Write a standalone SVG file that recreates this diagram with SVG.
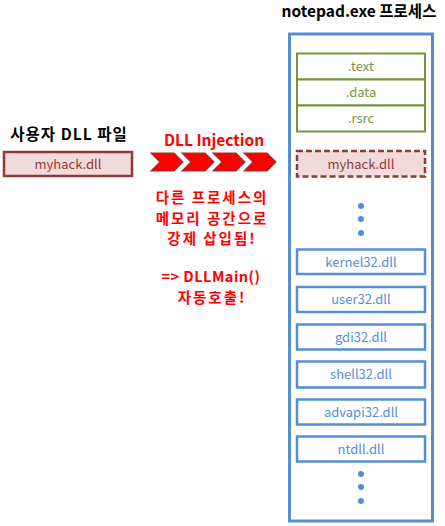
<svg xmlns="http://www.w3.org/2000/svg" width="445" height="526" viewBox="0 0 445 526">
<style>
text{font-family:"Noto Sans CJK KR","Noto Sans",sans-serif;text-anchor:middle}
.t{font-size:15.5px;font-weight:bold;fill:#000}
.red{font-size:15.5px;font-weight:bold;fill:#FF0000}
.rs{font-size:14.5px}
.ko{letter-spacing:2px}
.sec{fill:#fff;stroke:#77933C;stroke-width:2}
.st{font-size:13px;fill:#77933C}
.dll{fill:#fff;stroke:#558ED5;stroke-width:2.5}
.dt{font-size:13px;fill:#558ED5}
.mh{fill:#F2DCDB;stroke:#953735;stroke-width:2.5}
.mt{font-size:13px;fill:#953735}
.dot{fill:#558ED5}
.chev{fill:#FF0000;stroke:#953735;stroke-width:1.2}
</style>
<g id="user-dll">
<text class="t" x="69" y="140" style="letter-spacing:1px">사용자 DLL 파일</text>
<rect class="mh" x="4" y="152" width="128" height="24"/>
<text class="mt" x="68" y="168.5">myhack.dll</text>
</g>
<g id="injection">
<text class="red" x="214" y="146">DLL Injection</text>
<polygon class="chev" points="151,153 174,153 183,162 174,171 151,171 160,162"/>
<polygon class="chev" points="182,153 205,153 214,162 205,171 182,171 191,162"/>
<polygon class="chev" points="213,153 236,153 245,162 236,171 213,171 222,162"/>
<polygon class="chev" points="244,153 267,153 276,162 267,171 244,171 253,162"/>
<text class="red rs ko" x="212" y="203">다른 프로세스의</text>
<text class="red rs ko" x="212" y="223.5">메모리 공간으로</text>
<text class="red rs ko" x="212" y="244">강제 삽입됨!</text>
<text class="red rs" x="211" y="282" style="letter-spacing:0.5px">=&gt; DLLMain()</text>
<text class="red rs ko" x="212" y="302.5">자동호출!</text>
</g>
<g id="process">
<text class="t" x="359" y="17">notepad.exe 프로세스</text>
<rect x="289.5" y="34" width="143" height="487" fill="#fff" stroke="#558ED5" stroke-width="3"/>
</g>
<g id="sections">
<rect class="sec" x="297" y="53.5" width="128" height="26"/>
<text class="st" x="361" y="71">.text</text>
<rect class="sec" x="297" y="79.5" width="128" height="26"/>
<text class="st" x="361" y="97">.data</text>
<rect class="sec" x="297" y="105.5" width="128" height="26"/>
<text class="st" x="361" y="123">.rsrc</text>
</g>
<g id="injected-dll">
<rect class="mh" x="297" y="151" width="128" height="25.5" stroke-dasharray="6,3"/>
<text class="mt" x="361" y="168.5">myhack.dll</text>
</g>
<g id="dots-top">
<circle class="dot" cx="361" cy="206" r="3"/>
<circle class="dot" cx="361" cy="219" r="3"/>
<circle class="dot" cx="361" cy="233" r="3"/>
</g>
<g id="kernel32"><rect class="dll" x="297" y="249.5" width="128" height="24.5"/><text class="dt" x="361" y="266.5">kernel32.dll</text></g>
<g id="user32"><rect class="dll" x="297" y="287" width="128" height="25"/><text class="dt" x="361" y="304">user32.dll</text></g>
<g id="gdi32"><rect class="dll" x="297" y="324.5" width="128" height="25"/><text class="dt" x="361" y="341.5">gdi32.dll</text></g>
<g id="shell32"><rect class="dll" x="297" y="361.5" width="128" height="26"/><text class="dt" x="361" y="379">shell32.dll</text></g>
<g id="advapi32"><rect class="dll" x="297" y="399.5" width="128" height="25"/><text class="dt" x="361" y="416.5">advapi32.dll</text></g>
<g id="ntdll"><rect class="dll" x="297" y="436.5" width="128" height="25"/><text class="dt" x="361" y="453.5">ntdll.dll</text></g>
<g id="dots-bottom">
<circle class="dot" cx="361" cy="474" r="3"/>
<circle class="dot" cx="361" cy="487" r="3"/>
<circle class="dot" cx="361" cy="501" r="3"/>
</g>
</svg>
